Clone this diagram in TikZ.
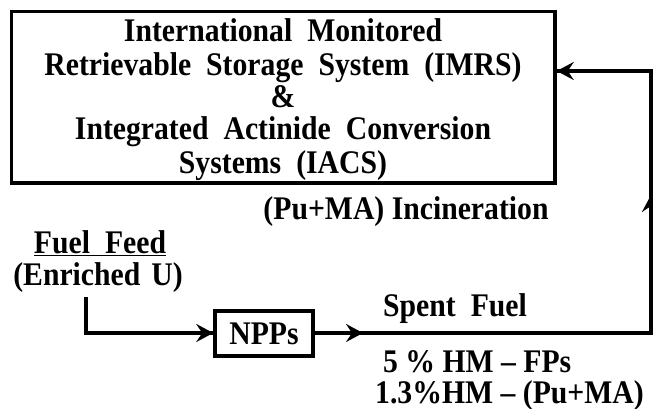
\documentclass[tikz,border=0pt]{standalone}
\usepackage{fontspec}
\setmainfont{Liberation Serif}[FakeStretch=0.9]
\usetikzlibrary{arrows.meta}
\newcommand{\dsp}{\hspace{15pt}}
\begin{document}
\begin{tikzpicture}[x=1pt,y=-1pt,
  conn/.style={line width=3.5pt},
  tip/.style={-{Stealth[length=17pt,width=18pt,inset=6pt]}},
  boxed/.style={draw,line width=3.5pt,inner sep=0pt},
  lbl/.style={font=\bfseries\fontsize{33}{34}\selectfont, inner sep=0pt}]
\useasboundingbox (0,0) rectangle (653,409);
\node[boxed, minimum width=543.5pt, minimum height=171.5pt] (store) at (283.25,97.25) {};
\node[lbl, align=center, anchor=north] (storetext) at (283,18)
  {International\dsp Monitored\\[0pt]
   Retrievable\dsp Storage\dsp System\dsp (IMRS)\\[-2pt]
   \&\\[-2pt]
   Integrated\dsp Actinide\dsp Conversion\\
   Systems\dsp (IACS)};
\node[lbl, anchor=base] (incin) at (406,219) {(Pu+MA) Incineration};
\node[lbl, anchor=base] (feedA) at (100,253) {\underline{Fuel\dsp Feed}};
\node[lbl, anchor=base] (feedB) at (98,285) {(Enriched\hspace{11pt}U)};
\node[boxed, lbl, minimum width=98pt, minimum height=45pt] (npps) at (264,333.5) {NPPs};
\node[lbl, anchor=base west] (spent) at (383,316) {Spent\dsp Fuel};
\node[lbl, anchor=base west, text depth=0pt] (hm1) at (383,372) {5 \% HM -- FPs};
\node[lbl, anchor=base west] (hm2) at (375,403) {1.3\%HM -- (Pu+MA)};
\coordinate (fstart) at (86,297);
\coordinate (fcorner) at (86,333);
\coordinate (mid1) at (363,333);
\coordinate (br) at (651,333);
\coordinate (mid2) at (651,195);
\coordinate (tr) at (651,71);
\draw[conn] (fstart) -- (fcorner) -- (fcorner -| npps.west);
\draw[conn, tip] (fcorner) -- (fcorner -| npps.west);
\draw[conn] (npps.east |- br) -- (br) -- (tr) -- (tr -| store.east);
\draw[conn, tip] (npps.east |- br) -- (mid1);
\draw[conn, tip] (br) -- (mid2);
\draw[conn, tip] (tr) -- (tr -| store.east);
\end{tikzpicture}
\end{document}
